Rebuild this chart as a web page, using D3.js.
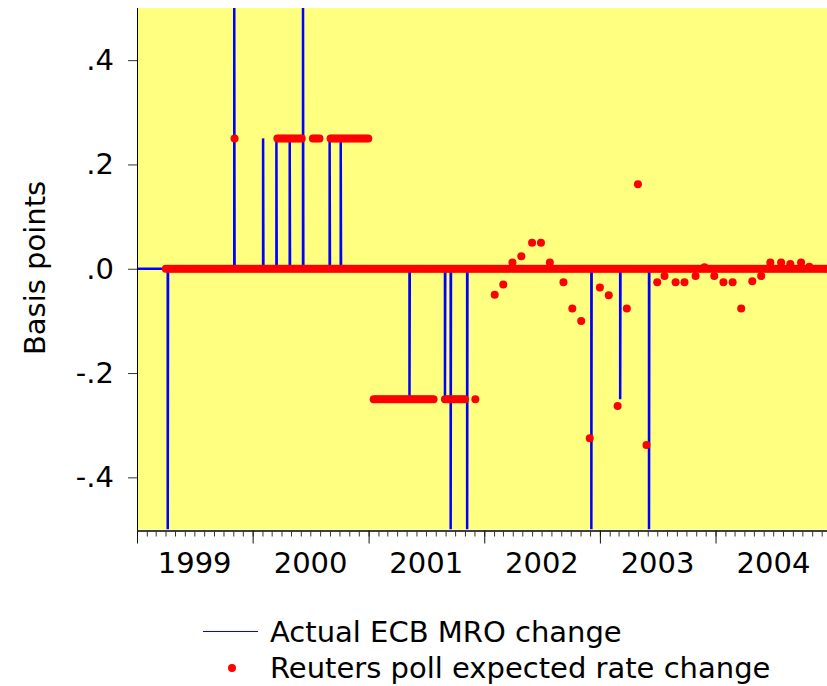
<!DOCTYPE html>
<html><head><meta charset="utf-8">
<script src="https://cdn.jsdelivr.net/npm/d3@7"></script>
<style>body{margin:0;background:#fff}svg{display:block;font-family:"DejaVu Sans",Verdana,sans-serif}</style>
</head><body><svg id="c" width="827" height="686"></svg>
<script>
// Actual ECB MRO changes (date, change)
const mroDates = ["1999-04-08","1999-11-04","2000-02-03","2000-03-16","2000-04-27","2000-06-08","2000-08-31","2000-10-05","2001-05-10","2001-08-30","2001-09-17","2001-11-08","2002-12-05","2003-03-06","2003-06-05"];
const mroChanges = [-0.5,0.5,0.25,0.25,0.25,0.5,0.25,0.25,-0.25,-0.25,-0.5,-0.5,-0.5,-0.25,-0.5];
// Runs of constant poll readings (drawn as weekly dots)
const pollRunStart = ["1999-04-02","2000-03-19","2000-07-09","2000-09-03","2001-01-17","2001-08-30"];
const pollRunEnd   = ["2004-12-31","2000-06-07","2000-08-02","2001-01-02","2001-07-30","2001-11-04"];
const pollRunValue = [0,0.25,0.25,0.25,-0.25,-0.25];
// Individual poll readings
const pollDates = ["1999-11-05","2001-12-04","2002-02-03","2002-03-02","2002-03-31","2002-04-28","2002-06-01","2002-06-29","2002-07-27","2002-09-08","2002-10-06","2002-11-03","2002-11-30","2003-01-01","2003-01-29","2003-02-26","2003-03-27","2003-05-01","2003-05-28","2003-07-01","2003-07-24","2003-08-28","2003-09-25","2003-10-30","2003-11-27","2003-12-28","2004-01-26","2004-02-24","2004-03-22","2004-04-26","2004-05-24","2004-06-22","2004-07-26","2004-08-24","2004-09-27","2004-10-23"];
const pollValues = [0.25,-0.25,-0.05,-0.03,0.012,0.024,0.05,0.05,0.012,-0.026,-0.076,-0.1,-0.325,-0.036,-0.051,-0.263,-0.076,0.162,-0.338,-0.026,-0.014,-0.026,-0.026,-0.014,0.003,-0.014,-0.026,-0.026,-0.076,-0.024,-0.014,0.012,0.012,0.009,0.012,0.004];
const yearLabels = ["1999","2000","2001","2002","2003","2004"];
const yTicks = [-0.4,-0.2,0,0.2,0.4];

const P = d3.timeParse("%Y-%m-%d");
const svg = d3.select("#c");
const mL = 137, mR = 831.5, mT = 8, mB = 529.5;
const FS = 29;
const x = d3.scaleTime().domain([new Date(1999,0,1), new Date(2005,0,1)]).range([mL, mR]);
const y = d3.scaleLinear().domain([-0.5,0.5]).range([mB, mT]);

svg.append("rect").attr("width",827).attr("height",686).attr("fill","#fff");
svg.append("rect").attr("x",mL).attr("y",mT).attr("width",mR-mL).attr("height",mB-mT).attr("fill","#ffff80");
svg.append("clipPath").attr("id","clip").append("rect").attr("x",mL).attr("y",mT).attr("width",mR-mL).attr("height",mB-mT);
const g = svg.append("g").attr("clip-path","url(#clip)");

// blue spike line
const linePts = [[x.domain()[0],0]];
mroDates.forEach((d,i)=>{ const t=P(d); linePts.push([t,0],[t,mroChanges[i]],[d3.timeDay.offset(t,1),0]); });
linePts.push([x.domain()[1],0]);
g.append("path").datum(linePts)
  .attr("d", d3.line().x(d=>x(d[0])).y(d=>y(d[1])))
  .attr("fill","none").attr("stroke","#0000ff").attr("stroke-width",2.5).attr("stroke-linejoin","bevel");

// red dots
const dots = [];
pollRunStart.forEach((s,i)=>{
  d3.timeDay.range(P(s), d3.timeDay.offset(P(pollRunEnd[i]),1), 7).forEach(t=>dots.push([t,pollRunValue[i]]));
});
pollDates.forEach((d,i)=>dots.push([P(d),pollValues[i]]));
g.selectAll("circle.p").data(dots).join("circle").attr("class","p")
  .attr("cx",d=>x(d[0])).attr("cy",d=>y(d[1])).attr("r",4).attr("fill","#ff0000");

// axes
const fmt = v => d3.format(".1f")(v).replace("\u2212","-").replace("0.",".");
const ya = svg.append("g").attr("transform",`translate(${mL},0)`)
  .call(d3.axisLeft(y).tickValues(yTicks).tickFormat(fmt).tickSize(9).tickPadding(14));
ya.select(".domain").attr("d",`M0.5,${mT}V${mB+1}`).attr("stroke","#000");
ya.selectAll(".tick line").attr("stroke","#333");
ya.selectAll("text").attr("font-size",FS).attr("font-family","DejaVu Sans").attr("fill","#000");

const xa = svg.append("g").attr("transform",`translate(0,${mB+1})`)
  .call(d3.axisBottom(x).ticks(d3.timeMonth.every(1)).tickFormat("").tickSize(6).tickSizeOuter(0));
xa.select(".domain").attr("stroke","#000").attr("stroke-width",1.5);
xa.selectAll(".tick line").attr("stroke","#333");
svg.append("g").attr("transform",`translate(0,${mB+1})`)
  .call(d3.axisBottom(x).ticks(d3.timeYear.every(1)).tickFormat("").tickSize(13).tickSizeOuter(0))
  .call(a=>a.select(".domain").remove())
  .selectAll(".tick line").attr("stroke","#111");

svg.append("g").selectAll("text").data(yearLabels).join("text")
  .attr("x",d=>x(new Date(+d,6,2))).attr("y",573).attr("text-anchor","middle")
  .attr("font-size",FS).text(d=>d);

svg.append("text").attr("transform","translate(45,268) rotate(-90)").attr("text-anchor","middle")
  .attr("font-size",FS).text("Basis points");

// legend
svg.append("line").attr("x1",203).attr("x2",258).attr("y1",631.5).attr("y2",631.5).attr("stroke","#0000ff").attr("stroke-width",1.2);
svg.append("text").attr("x",270).attr("y",642).attr("font-size",FS).text("Actual ECB MRO change");
svg.append("circle").attr("cx",232).attr("cy",668).attr("r",4).attr("fill","#ff0000");
svg.append("text").attr("x",270).attr("y",678).attr("font-size",FS).text("Reuters poll expected rate change");
</script></body></html>
